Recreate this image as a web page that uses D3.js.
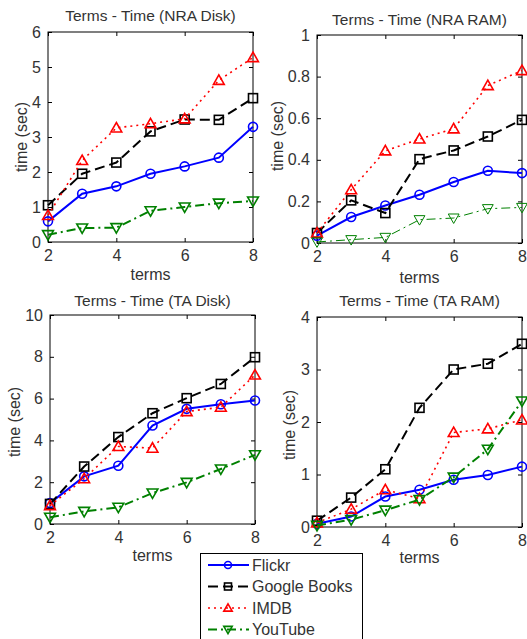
<!DOCTYPE html>
<html>
<head>
<meta charset="utf-8">
<script src="https://cdn.jsdelivr.net/npm/d3@7"></script>
<style>
body{margin:0;background:#fff;}
text{font-family:"Liberation Sans",Arial,sans-serif;fill:#333;}
</style>
</head>
<body>
<svg id="chart" width="527" height="639"></svg>
<script>
// x values (number of terms)
var terms = [2,3,4,5,6,7,8];
var seriesNames = ["Flickr","Google Books","IMDB","YouTube"];

// one row per series, same order as seriesNames
var nraDisk = [
	[0.59,1.38,1.59,1.95,2.16,2.41,3.29],
	[1.05,1.95,2.27,3.16,3.50,3.49,4.11],
	[0.76,2.33,3.26,3.38,3.52,4.62,5.27],
	[0.21,0.40,0.41,0.89,1.00,1.11,1.17]
];
var nraRam = [
	[0.035,0.125,0.18,0.232,0.293,0.347,0.336],
	[0.048,0.205,0.144,0.403,0.445,0.512,0.592],
	[0.048,0.256,0.443,0.50,0.549,0.757,0.829],
	[0.005,0.016,0.027,0.112,0.12,0.165,0.171]
];
var taDisk = [
	[1.00,2.28,2.79,4.71,5.51,5.73,5.91],
	[0.96,2.75,4.16,5.30,6.02,6.70,7.98],
	[0.88,2.17,3.71,3.63,5.38,5.59,7.13],
	[0.32,0.60,0.80,1.48,1.99,2.63,3.31]
];
var taRam = [
	[0.06,0.20,0.58,0.71,0.90,0.99,1.15],
	[0.12,0.56,1.10,2.27,3.00,3.11,3.49],
	[0.08,0.34,0.71,0.54,1.80,1.87,2.04],
	[0.03,0.14,0.32,0.52,0.95,1.48,2.40]
];

var xTicks = [2,4,6,8];
var yTicksNraDisk = [0,1,2,3,4,5,6];
var yTicksNraRam = [0,0.2,0.4,0.6,0.8,1];
var yTicksTaDisk = [0,2,4,6,8,10];
var yTicksTaRam = [0,1,2,3,4];
var titles = ["Terms - Time (NRA Disk)","Terms - Time (NRA RAM)","Terms - Time (TA Disk)","Terms - Time (TA RAM)"];

// styles per series
var colors = ["#0000ff","#000000","#ff0000","#008000"];
var dashes = [null,"10,5","2,4","9,4,2,4"];
var widths = [2,2,1.6,2];
var markers = ["circle","square","up","down"];

// panel layout
var panels = [
	{data:nraDisk, yt:yTicksNraDisk, x0:48, x1:253, y0:32, y1:242, tY:21, lX:27, lY:137, xlY:280},
	{data:nraRam, yt:yTicksNraRam, x0:317, x1:522, y0:35, y1:243, tY:25, lX:283, lY:136, xlY:283},
	{data:taDisk, yt:yTicksTaDisk, x0:50, x1:255, y0:315, y1:524, tY:306, lX:20, lY:422, xlY:561},
	{data:taRam, yt:yTicksTaRam, x0:317, x1:522, y0:317, y1:527, tY:306, lX:295, lY:425, xlY:563}
];

var svg = d3.select("#chart");
svg.append("rect").attr("width",527).attr("height",639).attr("fill","#fff");

function drawMarker(g,type,cx,cy,color,sw,sz){
	var p, r = sz || 4.5;
	if(type=="circle"){
		g.append("circle").attr("cx",cx).attr("cy",cy).attr("r",r)
		.attr("fill","none").attr("stroke",color).attr("stroke-width",sw);
		return;
	}
	if(type=="square"){
		g.append("rect").attr("x",cx-r).attr("y",cy-r).attr("width",2*r).attr("height",2*r)
		.attr("fill","none").attr("stroke",color).attr("stroke-width",sw);
		return;
	}
	var a = r*1.2, b = r*0.9;
	if(type=="up") p = [[cx,cy-a],[cx+a,cy+b],[cx-a,cy+b]];
	else p = [[cx,cy+a],[cx+a,cy-b],[cx-a,cy-b]];
	g.append("path").attr("d","M"+p.join("L")+"Z")
	.attr("fill","none").attr("stroke",color).attr("stroke-width",sw);
}

panels.forEach(function(pn,i){
	var x = d3.scaleLinear().domain([2,8]).range([pn.x0,pn.x1]);
	var y = d3.scaleLinear().domain([0,d3.max(pn.yt)]).range([pn.y1,pn.y0]);
	var g = svg.append("g");

	// ticks on all four sides, pointing in
	var ax = g.append("g").attr("class","axes");
	ax.append("g").attr("transform","translate(0,"+pn.y1+")")
		.call(d3.axisBottom(x).tickValues(xTicks).tickSize(-4).tickPadding(8).tickFormat(d3.format("d")));
	ax.append("g").attr("transform","translate(0,"+pn.y0+")")
		.call(d3.axisTop(x).tickValues(xTicks).tickSize(-4).tickFormat(""));
	ax.append("g").attr("transform","translate("+pn.x0+",0)")
		.call(d3.axisLeft(y).tickValues(pn.yt).tickSize(-4).tickPadding(7).tickFormat(d3.format("~g")));
	ax.append("g").attr("transform","translate("+pn.x1+",0)")
		.call(d3.axisRight(y).tickValues(pn.yt).tickSize(-4).tickFormat(""));
	ax.selectAll(".domain").remove();
	ax.selectAll("line").attr("stroke","#000");
	ax.selectAll("text").style("font-size","16px").attr("fill","#333");

	g.append("rect").attr("x",pn.x0).attr("y",pn.y0)
		.attr("width",pn.x1-pn.x0).attr("height",pn.y1-pn.y0)
		.attr("fill","none").attr("stroke","#000").attr("stroke-width",1);

	pn.data.forEach(function(vals,s){
		var sw = widths[s];
		if(i==1 && s==3) sw = 1;
		var line = d3.line().x(function(d,k){return x(terms[k]);}).y(function(d){return y(d);});
		g.append("path").datum(vals).attr("d",line)
			.attr("fill","none").attr("stroke",colors[s]).attr("stroke-width",sw)
			.attr("stroke-dasharray",dashes[s]);
		vals.forEach(function(v,k){
			drawMarker(g,markers[s],x(terms[k]),y(v),colors[s],sw>1?1.6:1);
		});
	});

	g.append("text").attr("x",(pn.x0+pn.x1)/2).attr("y",pn.tY)
		.attr("text-anchor","middle").style("font-size","15.5px").text(titles[i]);
	g.append("text").attr("x",(pn.x0+pn.x1)/2).attr("y",pn.xlY)
		.attr("text-anchor","middle").style("font-size","16px").text("terms");
	g.append("text").attr("transform","translate("+pn.lX+","+pn.lY+") rotate(-90)")
		.attr("text-anchor","middle").style("font-size","16px").text("time (sec)");
});

// legend
var lg = svg.append("g");
lg.append("rect").attr("x",200.5).attr("y",553.5).attr("width",162).attr("height",90)
	.attr("fill","#fff").attr("stroke","#000").attr("stroke-width",1);
seriesNames.forEach(function(n,s){
	var cy = 565 + s*21.5;
	lg.append("line").attr("x1",208).attr("x2",249).attr("y1",cy).attr("y2",cy)
		.attr("stroke",colors[s]).attr("stroke-width",widths[s]).attr("stroke-dasharray",dashes[s]);
	drawMarker(lg,markers[s],228,cy,colors[s],1.6,3.5);
	lg.append("text").attr("x",252).attr("y",cy).attr("dy","0.36em")
		.style("font-size","16px").text(n);
});
</script>
</body>
</html>
